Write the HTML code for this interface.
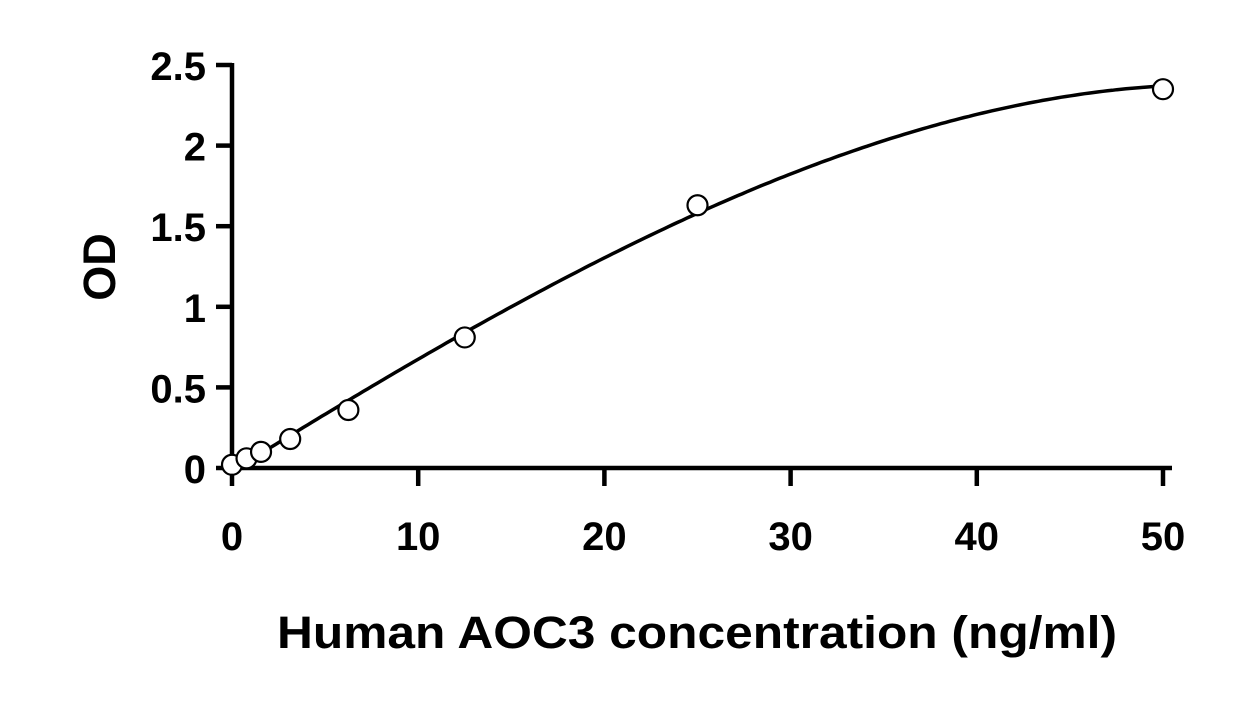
<!DOCTYPE html>
<html><head><meta charset="utf-8"><style>
body{margin:0;background:#fff}
svg text{font-family:"Liberation Sans",sans-serif;font-weight:bold;fill:#000}
</style></head><body>
<svg id="chart" width="1245" height="697" viewBox="0 0 1245 697">
<g id="axes"></g>
<g id="curve"></g>
<g id="points"></g>
<text x="697" y="648" text-anchor="middle" font-size="45" textLength="840" lengthAdjust="spacingAndGlyphs">Human AOC3 concentration (ng/ml)</text>
<text transform="translate(115,267) rotate(-90)" text-anchor="middle" font-size="45">OD</text>
</svg>
<script>
const xTicks=[0,10,20,30,40,50];
const yTicks=[0,0.5,1,1.5,2,2.5];
const yTickLabels=["0","0.5","1","1.5","2","2.5"];
const concentrations=[0,0.78,1.56,3.125,6.25,12.5,25,50];
const odValues=[0.02,0.06,0.1,0.18,0.36,0.81,1.63,2.35];
const fitCoef=[-0.02,0.8925,-0.01875,-0.01375];
const NS="http://www.w3.org/2000/svg";
const X0=232,X1=1163,Y0=468,Y1=65;
const sx=v=>X0+(v-0)/(50-0)*(X1-X0);
const sy=v=>Y0-(v-0)/(2.5-0)*(Y0-Y1);
function mk(tag,at,parent){const e=document.createElementNS(NS,tag);for(const k in at)e.setAttribute(k,at[k]);parent.appendChild(e);return e;}
const ax=document.getElementById('axes');
let l=mk('line',{x1:X0,y1:Y1-2,x2:X0,y2:Y0+2,stroke:'#000','stroke-width':4.5},ax);

l=mk('line',{x1:X0-2,y1:Y0,x2:1172,y2:Y0,stroke:'#000','stroke-width':4.5},ax);

yTicks.forEach((v,i)=>{
 const t=mk('line',{x1:X0-16,y1:sy(v),x2:X0,y2:sy(v),stroke:'#000','stroke-width':4.5},ax);
 
 const tx=mk('text',{x:X0-26,y:sy(v)+15,'text-anchor':'end','font-size':40},ax);
 tx.textContent=yTickLabels[i];
 
});
xTicks.forEach(v=>{
 const t=mk('line',{x1:sx(v),y1:Y0,x2:sx(v),y2:Y0+18,stroke:'#000','stroke-width':4.5},ax);
 
 const tx=mk('text',{x:sx(v),y:Y0+82,'text-anchor':'middle','font-size':40},ax);
 tx.textContent=String(v);
 
});
const f=x=>{const u=x/12.5;return fitCoef[0]+fitCoef[1]*u+fitCoef[2]*u*u+fitCoef[3]*u*u*u;};
let d='';
for(let i=0;i<=200;i++){const x=0.35+(50-0.35)*i/200;d+=(i?'L':'M')+sx(x).toFixed(1)+','+sy(f(x)).toFixed(1);}
const p=mk('path',{d:d,fill:'none',stroke:'#000','stroke-width':3.5},document.getElementById('curve'));

const pg=document.getElementById('points');
concentrations.forEach((c,i)=>{
 const e=mk('circle',{cx:sx(c),cy:sy(odValues[i]),r:10,fill:'#fff',stroke:'#000','stroke-width':2.2},pg);
 
});
</script>
</body></html>
